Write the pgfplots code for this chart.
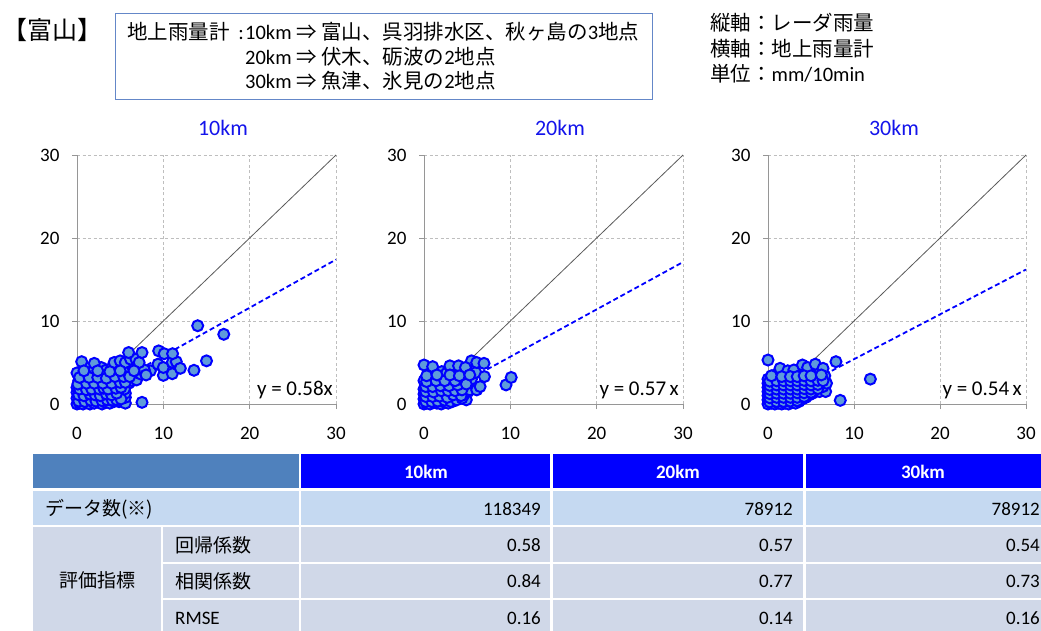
\documentclass[border=0pt]{standalone}
\usepackage{fontspec}
\setmainfont{Carlito}
\newfontfamily\jp{Noto Sans CJK JP}
\usepackage{pgfplots}
\usepackage{pgfplotstable}
\pgfplotsset{compat=1.18}

\definecolor{ptfill}{RGB}{95,155,218}
\definecolor{ptedge}{RGB}{0,0,255}
\definecolor{axgray}{RGB}{150,150,150}
\definecolor{gridgray}{RGB}{190,190,190}
\definecolor{refline}{RGB}{90,90,90}
\definecolor{hdrsteel}{RGB}{79,129,189}
\definecolor{hdrblue}{RGB}{0,0,255}
\definecolor{rowa}{RGB}{197,217,241}
\definecolor{rowb}{RGB}{208,216,232}
\definecolor{boxline}{RGB}{100,135,200}
\definecolor{titleblue}{RGB}{20,20,235}

\newcommand\fsT{\fontsize{19}{19}\selectfont}
\newcommand\fsH{\fontsize{20.5}{20.5}\selectfont}
\newcommand\fsE{\fontsize{21}{21}\selectfont}

% radar (y) vs gauge (x) rainfall, mm/10min
\pgfplotstableread{
x y
0 0
0.3 0.1
0.7 0
1.1 0.2
1.5 0
2.0 0.1
2.4 0.3
2.9 0
3.3 0.2
3.8 0.1
4.3 0.3
4.87 0.28
5.3 0.4
5.6 0.1
0 0.7
0.4 0.8
0.9 0.6
1.3 0.9
1.8 0.7
2.3 0.8
2.7 0.6
3.2 0.9
3.7 0.7
4.2 0.8
4.7 0.9
5.2 1.0
5.6 0.8
0 1.4
0.5 1.5
1.0 1.3
1.4 1.6
1.9 1.4
2.4 1.5
2.9 1.3
3.3 1.6
3.8 1.4
4.3 1.5
4.8 1.7
5.3 1.6
5.6 1.3
0 2.0
0.4 2.2
0.9 2.1
1.4 2.3
1.9 2.0
2.4 2.2
2.8 2.1
3.3 2.3
3.8 2.0
4.3 2.2
4.9 2.4
5.4 2.1
6.0 2.5
0.2 2.8
0.7 2.9
1.2 2.7
1.7 3.0
2.2 2.8
2.7 2.9
3.2 2.7
3.7 3.0
4.2 2.8
4.7 3.0
5.2 2.9
5.8 3.1
6.4 2.8
6.9 2.9
0.5 3.5
1.0 3.4
1.6 3.6
2.1 3.5
2.6 3.7
3.1 3.4
3.6 3.6
4.1 3.5
4.6 3.7
5.1 3.5
5.6 3.8
6.2 3.6
6.8 3.9
7.4 3.6
7.9 3.7
8.5 4.0
1.2 4.3
2.0 4.2
2.8 4.4
3.4 4.1
4.0 4.3
4.6 4.2
5.2 4.5
5.8 4.3
6.4 4.6
7.0 4.4
7.8 4.1
0 3.75
0.54 5.1
2.0 4.9
4.3 5.0
5.0 5.2
5.6 5.0
6.2 5.4
6.83 5.4
7.2 5.0
5.98 6.2
7.53 6.2
0.2 0.35
0.9 0.3
1.6 0.45
2.2 0.35
2.9 0.4
3.5 0.5
4.1 0.45
4.6 0.5
5.1 0.6
0.2 1.1
0.8 1.0
1.5 1.2
2.1 1.1
2.7 1.0
3.4 1.2
4.0 1.1
4.6 1.3
5.5 1.8
0.3 1.8
1.1 1.7
1.7 1.8
2.6 1.8
3.1 1.9
3.6 1.8
4.5 1.9
5.1 2.0
0.1 2.4
1.1 2.5
2.0 2.5
3.0 2.5
4.0 2.5
5.0 2.6
5.6 2.6
0.3 3.2
1.4 3.2
2.4 3.2
3.4 3.1
4.4 3.3
5.4 3.3
6.1 3.3
0.8 4.0
2.4 4.0
3.8 3.9
5.0 4.0
6.6 4.0
7.53 0.2
8.0 3.5
9.38 4.8
9.46 6.4
10.0 3.45
10.0 4.4
10.1 6.06
11.04 3.65
11.04 5.02
11.5 5.1
11.07 6.06
11.97 4.3
13.55 4.06
15.0 5.2
13.98 9.43
17.0 8.4
}\dataA

\pgfplotstableread{
x y
0 0
0.3 0.1
0.7 0
1.1 0.2
1.5 0.1
2.0 0
2.4 0.2
2.8 0.1
3.3 0.3
0 0.6
0.4 0.7
0.8 0.5
1.2 0.8
1.6 0.6
2.1 0.7
2.5 0.9
3.0 0.6
3.4 0.8
3.9 0.9
4.9 0.5
0 1.2
0.4 1.3
0.9 1.1
1.3 1.4
1.7 1.2
2.2 1.3
2.6 1.1
3.1 1.4
3.6 1.2
4.1 1.3
4.6 1.1
5.1 1.5
0 1.8
0.5 1.9
0.9 1.7
1.4 2.0
1.9 1.8
2.3 2.1
2.8 1.9
3.3 2.0
3.7 1.8
4.2 2.1
4.7 2.0
5.3 1.7
6.1 1.7
6.5 2.1
0.2 2.4
0.7 2.5
1.2 2.3
1.6 2.6
2.1 2.5
2.6 2.3
3.1 2.6
3.6 2.4
4.1 2.6
4.6 2.5
5.0 2.8
0 2.8
0.6 3.1
1.1 3.0
1.7 3.2
2.2 3.1
2.8 3.3
3.3 3.0
3.9 3.2
4.4 2.9
4.9 3.3
5.5 3.0
0.96 3.5
2.05 3.9
2.6 3.7
3.5 3.6
4.2 3.9
4.8 3.6
6.0 3.8
7.0 3.3
0 4.7
1.0 4.5
3.0 4.6
4.0 4.6
5.5 5.2
6.1 5.0
6.95 4.9
4.8 4.4
0.2 0.3
0.9 0.3
1.6 0.35
2.4 0.45
3.1 0.3
3.8 0.5
4.4 0.7
0.2 0.9
1.0 0.9
1.8 0.95
2.7 0.8
3.4 1.1
4.3 1.0
0.2 1.5
1.1 1.45
2.0 1.6
2.8 1.6
3.6 1.6
4.4 1.7
0.2 2.1
1.0 2.1
1.9 2.2
2.9 2.2
3.9 2.3
4.9 2.4
0.3 2.7
1.4 2.8
2.4 2.8
3.6 2.8
0.3 3.4
1.5 3.5
3.0 3.5
4.1 3.4
5.3 3.5
9.5 2.3
10.1 3.2
}\dataB

\pgfplotstableread{
x y
0 0
0.4 0.1
0.8 0
1.2 0.1
1.6 0
2.0 0.1
2.4 0
2.8 0.2
3.2 0.1
3.6 0.3
0 0.5
0.4 0.6
0.8 0.4
1.2 0.6
1.6 0.5
2.0 0.6
2.4 0.4
2.8 0.6
3.2 0.5
3.6 0.7
4.0 0.6
4.4 0.8
0 1.0
0.4 1.1
0.8 0.9
1.2 1.1
1.6 1.0
2.0 1.1
2.4 0.9
2.8 1.1
3.2 1.0
3.6 1.2
4.0 1.0
4.4 1.2
4.8 1.1
5.2 1.3
0 1.5
0.4 1.6
0.8 1.4
1.2 1.6
1.6 1.5
2.0 1.6
2.4 1.4
2.8 1.6
3.2 1.5
3.6 1.7
4.0 1.5
4.4 1.7
4.8 1.6
5.2 1.5
5.6 1.7
6.0 1.5
6.7 1.5
0 2.0
0.4 2.1
0.8 1.9
1.2 2.1
1.6 2.0
2.0 2.1
2.4 1.9
2.8 2.1
3.2 2.0
3.6 2.2
4.0 2.0
4.4 2.2
4.8 2.1
5.2 2.0
5.6 2.2
6.0 2.0
6.4 2.1
0 2.5
0.4 2.6
0.8 2.4
1.2 2.6
1.6 2.5
2.0 2.6
2.4 2.4
2.8 2.6
3.2 2.5
3.6 2.7
4.0 2.5
4.4 2.7
4.8 2.6
5.2 2.5
5.6 2.7
6.0 2.5
6.8 2.5
0 3.0
0.4 3.1
0.8 2.9
1.2 3.1
1.6 3.0
2.0 3.1
2.4 2.9
2.8 3.1
3.2 3.0
3.6 3.2
4.0 3.0
4.4 3.2
4.8 3.1
5.2 3.0
5.6 3.2
6.0 3.0
6.6 3.4
0.8 3.5
1.2 3.6
2.0 3.6
2.4 3.9
2.8 3.6
3.2 3.5
3.6 3.8
4.0 3.6
4.4 3.8
4.8 3.6
5.2 3.9
5.6 3.6
6.0 3.8
1.4 4.3
2.3 4.0
3.0 4.1
4.0 4.7
4.6 4.4
5.5 4.8
6.4 4.3
0.2 0.25
1.0 0.3
1.8 0.3
2.6 0.35
3.4 0.4
0.2 0.75
1.0 0.8
1.8 0.8
2.6 0.8
3.4 0.8
4.2 0.9
0.2 1.25
1.0 1.3
1.8 1.3
2.6 1.3
3.4 1.35
4.2 1.35
5.0 1.4
0.2 1.75
1.0 1.8
1.8 1.8
2.6 1.8
3.4 1.8
4.2 1.85
5.0 1.8
5.8 1.85
0.2 2.25
1.0 2.3
1.8 2.3
2.6 2.3
3.4 2.3
4.2 2.35
5.0 2.3
5.8 2.35
0.2 2.75
1.0 2.8
1.8 2.8
2.6 2.8
3.4 2.8
4.2 2.85
5.0 2.8
5.8 2.85
6.4 2.8
0.4 3.4
1.6 3.3
2.6 3.3
3.4 3.3
4.2 3.4
5.0 3.4
6.2 3.5
0 5.3
7.9 5.1
11.9 3.0
8.4 0.44
}\dataC

\pgfplotsset{
  panel/.style={
    scale only axis, width=259pt, height=249pt, anchor=south west,
    xmin=0, xmax=30, ymin=0, ymax=30, enlargelimits=false,
    xtick={0,10,20,30}, ytick={0,10,20,30},
    axis lines=left, axis line style={-, draw=axgray, line width=0.8pt},
    tick align=outside, major tick length=5pt,
    tick style={draw=axgray, line width=0.8pt},
    grid=major,
    major grid style={draw=gridgray, line width=0.8pt, dash pattern=on 3pt off 2.5pt},
    clip=false,
    tick label style={font=\fsT, text=black},
    /pgf/number format/assume math mode=true,
    xticklabel style={yshift=-15pt},
    yticklabel style={xshift=-9pt},
  },
  pts/.style={only marks, mark=*, mark size=5.5pt,
    mark options={fill=ptfill, draw=ptedge, line width=2pt}},
  fit/.style={draw=ptedge, line width=1.8pt, dash pattern=on 5pt off 3pt},
  oneone/.style={draw=refline, line width=0.8pt},
}

\begin{document}
\begin{tikzpicture}
\useasboundingbox (0pt,0pt) rectangle (1041pt,-630pt);
\fill[white] (0pt,0pt) rectangle (1041pt,-630pt);

\begin{scope}[x=1pt, y=-1pt]
  % header
  \node[anchor=west, inner sep=0, font=\jp\fontsize{25}{25}\selectfont] at (2,30) {【富山】};
  \draw[boxline, line width=1pt] (115,13) rectangle (652,99);
  \node[anchor=base west, inner sep=0, font=\jp\fsH] at (127,39) {地上雨量計};
  \node[anchor=base east, inner sep=0, font=\fsH] at (244,39) {:};
  \node[anchor=base west, inner sep=0, font=\fsH] at (245,39) {10km {\jp ⇒} {\jp 富山、呉羽排水区、秋ヶ島の}3{\jp 地点}};
  \node[anchor=base west, inner sep=0, font=\fsH] at (245,64) {20km {\jp ⇒} {\jp 伏木、砺波の}2{\jp 地点}};
  \node[anchor=base west, inner sep=0, font=\fsH] at (245,88) {30km {\jp ⇒} {\jp 魚津、氷見の}2{\jp 地点}};
  \node[anchor=base west, inner sep=0, font=\fsH] at (710,30) {\jp 縦軸：レーダ雨量};
  \node[anchor=base west, inner sep=0, font=\fsH] at (710,56) {\jp 横軸：地上雨量計};
  \node[anchor=base west, inner sep=0, font=\fsH] at (710,81) {{\jp 単位：}mm/10min};

  % panel titles and fitted equations
  \node[titleblue, font=\fontsize{22}{22}\selectfont] at (223,128) {10km};
  \node[titleblue, font=\fontsize{22}{22}\selectfont] at (560,128) {20km};
  \node[titleblue, font=\fontsize{22}{22}\selectfont] at (894,128) {30km};
  \node[anchor=east, inner sep=0, font=\fsE] at (333,390) {y = 0.58x};
  \node[anchor=east, inner sep=0, font=\fsE] at (679,390) {y = 0.57\,x};
  \node[anchor=east, inner sep=0, font=\fsE] at (1022,390) {y = 0.54\,x};

  % summary table
  \fill[hdrsteel] (33,454) rectangle (299,488);
  \fill[hdrblue] (301,454) rectangle (550,488);
  \fill[hdrblue] (553,454) rectangle (803,488);
  \fill[hdrblue] (806,454) rectangle (1041,488);
  \node[white, font=\bfseries\fsT] at (426,472) {10km};
  \node[white, font=\bfseries\fsT] at (678,472) {20km};
  \node[white, font=\bfseries\fsT] at (923,472) {30km};

  \fill[rowa] (33,491) rectangle (299,525);
  \fill[rowa] (301,491) rectangle (550,525);
  \fill[rowa] (553,491) rectangle (803,525);
  \fill[rowa] (806,491) rectangle (1041,525);
  \node[anchor=west, inner sep=0, font=\jp\fsT] at (45,509) {データ数(※)};
  \node[anchor=east, inner sep=0, font=\fsT] at (541,509) {118349};
  \node[anchor=east, inner sep=0, font=\fsT] at (793,509) {78912};
  \node[anchor=east, inner sep=0, font=\fsT] at (1040,509) {78912};

  \fill[rowb] (33,527) rectangle (161,632);
  \foreach \ya/\yb in {527/562, 564/598, 600/632} {
    \fill[rowb] (163,\ya) rectangle (299,\yb);
    \fill[rowb] (301,\ya) rectangle (550,\yb);
    \fill[rowb] (553,\ya) rectangle (803,\yb);
    \fill[rowb] (806,\ya) rectangle (1041,\yb);
  }
  \node[inner sep=0, font=\jp\fsT] at (97,580) {評価指標};
  \node[anchor=west, inner sep=0, font=\jp\fsT] at (175,545) {回帰係数};
  \node[anchor=west, inner sep=0, font=\jp\fsT] at (175,581) {相関係数};
  \node[anchor=west, inner sep=0, font=\fsT] at (175,618) {RMSE};
  \foreach \y/\a/\b/\c in {545/0.58/0.57/0.54, 581/0.84/0.77/0.73, 618/0.16/0.14/0.16} {
    \node[anchor=east, inner sep=0, font=\fsT] at (541,\y) {\a};
    \node[anchor=east, inner sep=0, font=\fsT] at (793,\y) {\b};
    \node[anchor=east, inner sep=0, font=\fsT] at (1040,\y) {\c};
  }
\end{scope}

% 10 km
\begin{axis}[panel, at={(77pt,-404pt)}]
  \addplot[fit] coordinates {(0,0) (30,17.4)};
  \addplot[pts] table {\dataA};
  \addplot[oneone] coordinates {(0,0) (30,30)};
\end{axis}

% 20 km
\begin{axis}[panel, at={(424pt,-404pt)}]
  \addplot[fit] coordinates {(0,0) (30,17.1)};
  \addplot[pts] table {\dataB};
  \addplot[oneone] coordinates {(0,0) (30,30)};
\end{axis}

% 30 km
\begin{axis}[panel, width=258pt, at={(768pt,-404pt)}]
  \addplot[fit] coordinates {(0,0) (30,16.2)};
  \addplot[pts] table {\dataC};
  \addplot[oneone] coordinates {(0,0) (30,30)};
\end{axis}
\end{tikzpicture}
\end{document}
